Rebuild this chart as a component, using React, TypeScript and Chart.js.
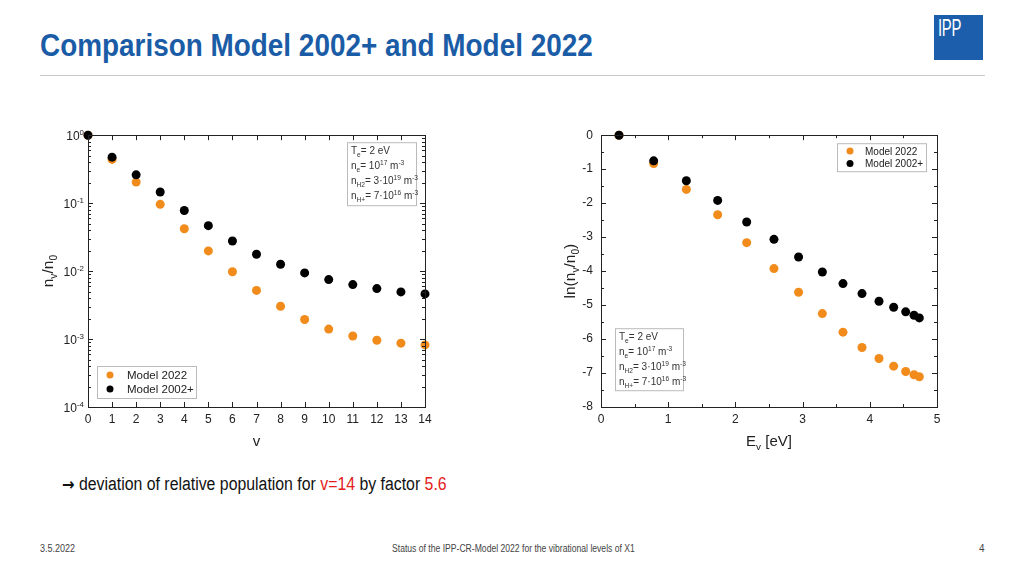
import React, { useEffect, useRef } from "react";
import { Chart, registerables } from "chart.js";

Chart.register(...registerables);

// ---------------- data ----------------
const V_LEVELS = [0, 1, 2, 3, 4, 5, 6, 7, 8, 9, 10, 11, 12, 13, 14];
const NV_MODEL_2022 = [1, 0.44, 0.204, 0.096, 0.042, 0.0198, 0.0098, 0.0052, 0.00304, 0.00194, 0.0014, 0.00111, 0.00096, 0.00087, 0.00082];
const NV_MODEL_2002 = [1, 0.475, 0.261, 0.146, 0.078, 0.0466, 0.0277, 0.0177, 0.0126, 0.0094, 0.0075, 0.00633, 0.00553, 0.00494, 0.00462];

const E_V = [0.268, 0.784, 1.27, 1.736, 2.168, 2.574, 2.94, 3.294, 3.601, 3.884, 4.137, 4.355, 4.534, 4.658, 4.737];
const LN_MODEL_2022 = [0, -0.832, -1.596, -2.34, -3.163, -3.927, -4.622, -5.25, -5.798, -6.249, -6.572, -6.797, -6.954, -7.05, -7.11];
const LN_MODEL_2002 = [0, -0.754, -1.342, -1.92, -2.556, -3.066, -3.585, -4.025, -4.368, -4.662, -4.887, -5.064, -5.2, -5.299, -5.377];

const LEFT_X_TICKS = [0, 1, 2, 3, 4, 5, 6, 7, 8, 9, 10, 11, 12, 13, 14];
const LEFT_Y_TICKS = [1, 0.1, 0.01, 0.001, 0.0001];
const LEFT_Y_EXPONENTS = ["0", "-1", "-2", "-3", "-4"];
const RIGHT_X_TICKS = [0, 1, 2, 3, 4, 5];
const RIGHT_Y_TICKS = [0, -1, -2, -3, -4, -5, -6, -7, -8];

const SERIES_NAMES = ["Model 2022", "Model 2002+"];
const ORANGE = "#f18c1c";
const BLACK = "#000000";
const FONT = "'Liberation Sans', Arial, sans-serif";

type Seg = { t: string; s?: "sub" | "sup" };

function drawRich(ctx: CanvasRenderingContext2D, x: number, y: number, segs: Seg[], size: number, color: string, align: "left" | "center" | "right" = "left") {
  ctx.save();
  ctx.fillStyle = color;
  ctx.textBaseline = "alphabetic";
  ctx.textAlign = "left";
  const small = size * 0.66;
  let w = 0;
  for (const sg of segs) {
    ctx.font = `${sg.s ? small : size}px ${FONT}`;
    w += ctx.measureText(sg.t).width;
  }
  let cx = align === "center" ? x - w / 2 : align === "right" ? x - w : x;
  for (const sg of segs) {
    ctx.font = `${sg.s ? small : size}px ${FONT}`;
    const dy = sg.s === "sub" ? size * 0.28 : sg.s === "sup" ? -size * 0.4 : 0;
    ctx.fillText(sg.t, cx, y + dy);
    cx += ctx.measureText(sg.t).width;
  }
  ctx.restore();
  return w;
}

const INFO_LINES: Seg[][] = [
  [{ t: "T" }, { t: "e", s: "sub" }, { t: "= 2 eV" }],
  [{ t: "n" }, { t: "e", s: "sub" }, { t: "= 10" }, { t: "17", s: "sup" }, { t: " m" }, { t: "-3", s: "sup" }],
  [{ t: "n" }, { t: "H2", s: "sub" }, { t: "= 3·10" }, { t: "19", s: "sup" }, { t: " m" }, { t: "-3", s: "sup" }],
  [{ t: "n" }, { t: "H+", s: "sub" }, { t: "= 7·10" }, { t: "16", s: "sup" }, { t: " m" }, { t: "-3", s: "sup" }],
];

type Box = { x: number; y: number; w: number; h: number };
type Cfg = {
  xTitle: Seg[];
  yTitle: Seg[];
  yTitleOffset: number;
  logY: boolean;
  xMinor: number[];
  yMinor: number[];
  legend: (a: any) => Box;
  legendFont: number;
  legendTextOffset: number;
  legendRow: number;
  info: (a: any) => Box;
};

function makePlugin(cfg: Cfg) {
  return {
    id: "decor",
    afterDraw(chart: any) {
      const ctx: CanvasRenderingContext2D = chart.ctx;
      const a = chart.chartArea;
      const xs = chart.scales.x;
      const ys = chart.scales.y;
      ctx.save();
      ctx.strokeStyle = "#222";
      ctx.lineWidth = 1;
      ctx.strokeRect(Math.round(a.left) + 0.5, Math.round(a.top) + 0.5, Math.round(a.right - a.left), Math.round(a.bottom - a.top));
      const tick = (x1: number, y1: number, x2: number, y2: number) => {
        ctx.beginPath();
        ctx.moveTo(x1, y1);
        ctx.lineTo(x2, y2);
        ctx.stroke();
      };
      const xMajor = xs.ticks.map((t: any) => t.value);
      const yMajor = ys.ticks.map((t: any) => t.value);
      for (const v of xMajor) {
        const p = Math.round(xs.getPixelForValue(v)) + 0.5;
        tick(p, a.bottom, p, a.bottom - 5);
        tick(p, a.top, p, a.top + 5);
      }
      for (const v of cfg.xMinor) {
        const p = Math.round(xs.getPixelForValue(v)) + 0.5;
        tick(p, a.bottom, p, a.bottom - 3);
        tick(p, a.top, p, a.top + 3);
      }
      for (const v of yMajor) {
        const p = Math.round(ys.getPixelForValue(v)) + 0.5;
        tick(a.left, p, a.left + 5, p);
        tick(a.right, p, a.right - 5, p);
      }
      for (const v of cfg.yMinor) {
        const p = Math.round(ys.getPixelForValue(v)) + 0.5;
        tick(a.left, p, a.left + 3, p);
        tick(a.right, p, a.right - 3, p);
      }
      // log tick labels with superscripts
      if (cfg.logY) {
        LEFT_Y_TICKS.forEach((v, i) => {
          const p = ys.getPixelForValue(v);
          drawRich(ctx, a.left - 4, p + 5, [{ t: "10" }, { t: LEFT_Y_EXPONENTS[i], s: "sup" }], 12, "#222", "right");
        });
      }
      // axis titles
      drawRich(ctx, (a.left + a.right) / 2, a.bottom + 39, cfg.xTitle, 15, "#222", "center");
      ctx.save();
      ctx.translate(a.left - cfg.yTitleOffset, (a.top + a.bottom) / 2);
      ctx.rotate(-Math.PI / 2);
      drawRich(ctx, 0, 0, cfg.yTitle, 15.5, "#222", "center");
      ctx.restore();
      // legend
      const lg = cfg.legend(a);
      ctx.fillStyle = "#fff";
      ctx.fillRect(lg.x, lg.y, lg.w, lg.h);
      ctx.strokeStyle = "#bbb";
      ctx.strokeRect(lg.x + 0.5, lg.y + 0.5, lg.w, lg.h);
      const cols = [ORANGE, BLACK];
      SERIES_NAMES.forEach((n, i) => {
        const cy = lg.y + lg.h / 2 + (i - 0.5) * cfg.legendRow;
        ctx.fillStyle = cols[i];
        ctx.beginPath();
        ctx.arc(lg.x + 13, cy, 3.5, 0, Math.PI * 2);
        ctx.fill();
        ctx.fillStyle = "#222";
        ctx.font = `${cfg.legendFont}px ${FONT}`;
        ctx.textBaseline = "middle";
        ctx.textAlign = "left";
        ctx.fillText(n, lg.x + cfg.legendTextOffset, cy + 1);
      });
      // info box
      const ib = cfg.info(a);
      ctx.fillStyle = "#fff";
      ctx.fillRect(ib.x, ib.y, ib.w, ib.h);
      ctx.strokeStyle = "#bbb";
      ctx.strokeRect(ib.x + 0.5, ib.y + 0.5, ib.w, ib.h);
      INFO_LINES.forEach((segs, i) => {
        drawRich(ctx, ib.x + 4, ib.y + 12 + i * 15, segs, 10, "#333", "left");
      });
      ctx.restore();
    },
  };
}

function ScatterPanel(props: {
  left: number;
  top: number;
  width: number;
  height: number;
  yAxisWidth: number;
  xAxisHeight: number;
  padTop: number;
  padRight: number;
  kind: "log" | "ln";
}) {
  const ref = useRef<HTMLCanvasElement | null>(null);
  useEffect(() => {
    if (!ref.current) return;
    const isLog = props.kind === "log";
    const xv = isLog ? V_LEVELS : E_V;
    const y22 = isLog ? NV_MODEL_2022 : LN_MODEL_2022;
    const y02 = isLog ? NV_MODEL_2002 : LN_MODEL_2002;
    const xTicks = isLog ? LEFT_X_TICKS : RIGHT_X_TICKS;
    const yTicks = isLog ? LEFT_Y_TICKS : RIGHT_Y_TICKS;
    const yMinor: number[] = [];
    if (isLog) {
      for (let d = -4; d < 0; d++) for (let m = 2; m <= 9; m++) yMinor.push(m * Math.pow(10, d));
    } else {
      for (let k = 0; k < 8; k++) yMinor.push(-k - 0.5);
    }
    const xMinor: number[] = isLog ? [] : [0.5, 1.5, 2.5, 3.5, 4.5];
    const cfg: Cfg = isLog
      ? {
          xTitle: [{ t: "v" }],
          yTitle: [{ t: "n" }, { t: "v", s: "sub" }, { t: "/n" }, { t: "0", s: "sub" }],
          yTitleOffset: 35,
          logY: true,
          xMinor,
          yMinor,
          legend: (a) => ({ x: a.left + 9, y: a.bottom - 41, w: 99, h: 32 }),
          legendFont: 11.5,
          legendTextOffset: 30,
          legendRow: 14,
          info: (a) => ({ x: a.right - 78, y: a.top + 7, w: 69, h: 63 }),
        }
      : {
          xTitle: [{ t: "E" }, { t: "v", s: "sub" }, { t: " [eV]" }],
          yTitle: [{ t: "ln(n" }, { t: "v", s: "sub" }, { t: "/n" }, { t: "0", s: "sub" }, { t: ")" }],
          yTitleOffset: 26,
          logY: false,
          xMinor,
          yMinor,
          legend: (a) => ({ x: a.right - 100, y: a.top + 8, w: 89, h: 28 }),
          legendFont: 10,
          legendTextOffset: 28,
          legendRow: 12.5,
          info: (a) => ({ x: a.left + 14, y: a.top + 193, w: 68, h: 62 }),
        };
    const chart = new Chart(ref.current, {
      type: "scatter",
      data: {
        datasets: [
          {
            label: SERIES_NAMES[0],
            data: xv.map((x, i) => ({ x, y: y22[i] })),
            backgroundColor: ORANGE,
            borderColor: ORANGE,
            borderWidth: 0,
            pointRadius: 4.5,
            order: 2,
            clip: false as any,
          },
          {
            label: SERIES_NAMES[1],
            data: xv.map((x, i) => ({ x, y: y02[i] })),
            backgroundColor: BLACK,
            borderColor: BLACK,
            borderWidth: 0,
            pointRadius: 4.5,
            order: 1,
            clip: false as any,
          },
        ],
      },
      options: {
        animation: false,
        responsive: false,
        maintainAspectRatio: false,
        layout: { padding: { top: props.padTop, right: props.padRight, left: 0, bottom: 0 } },
        plugins: { legend: { display: false }, tooltip: { enabled: false } },
        scales: {
          x: {
            type: "linear",
            min: xTicks[0],
            max: xTicks[xTicks.length - 1],
            afterBuildTicks: (s: any) => {
              s.ticks = xTicks.map((v) => ({ value: v }));
            },
            afterFit: (s: any) => {
              s.height = props.xAxisHeight;
            },
            ticks: { autoSkip: false, maxRotation: 0, color: "#222", font: { size: 12, family: FONT }, padding: 5 },
            grid: { display: false, drawTicks: false },
            border: { display: false },
          },
          y: {
            type: isLog ? "logarithmic" : "linear",
            min: isLog ? 0.0001 : -8,
            max: isLog ? 1 : 0,
            afterBuildTicks: (s: any) => {
              s.ticks = yTicks.map((v) => ({ value: v }));
            },
            afterFit: (s: any) => {
              s.width = props.yAxisWidth;
            },
            ticks: {
              autoSkip: false,
              color: "#222",
              font: { size: 12, family: FONT },
              padding: 8,
              callback: (v: any) => (isLog ? "" : String(v)),
            },
            grid: { display: false, drawTicks: false },
            border: { display: false },
          },
        } as any,
      },
      plugins: [makePlugin(cfg)],
    });
    return () => chart.destroy();
  }, []);
  return (
    <canvas
      ref={ref}
      width={props.width}
      height={props.height}
      style={{ position: "absolute", left: props.left, top: props.top, width: props.width, height: props.height }}
    />
  );
}

const squeeze = (k: number): React.CSSProperties => ({ transform: `scaleX(${k})`, transformOrigin: "left top" });

export default function App() {
  useEffect(() => {
    document.body.style.margin = "0";
  }, []);
  return (
    <div style={{ position: "fixed", left: 0, top: 0, width: 1024, height: 576, background: "#fff", overflow: "hidden", fontFamily: FONT }}>
      <div
        style={{
          position: "absolute",
          left: 40,
          top: 28,
          fontWeight: "bold",
          fontSize: 31,
          lineHeight: "36px",
          color: "#1b5ca6",
          whiteSpace: "nowrap",
          ...squeeze(0.9),
        }}
      >
        Comparison Model 2002+ and Model 2022
      </div>
      <div style={{ position: "absolute", left: 40, top: 75, width: 945, height: 1, background: "#c9c9c9" }} />
      <div style={{ position: "absolute", left: 934, top: 15, width: 49, height: 45, background: "#1c5eab" }}>
        <div
          style={{
            position: "absolute",
            left: 4,
            top: 0,
            color: "#fff",
            fontSize: 24,
            lineHeight: "26px",
            letterSpacing: -0.5,
            ...squeeze(0.62),
          }}
        >
          IPP
        </div>
      </div>

      <ScatterPanel left={20} top={120} width={430} height={340} yAxisWidth={68} xAxisHeight={53} padTop={15} padRight={25} kind="log" />
      <ScatterPanel left={540} top={120} width={420} height={340} yAxisWidth={61} xAxisHeight={53} padTop={15} padRight={23} kind="ln" />

      <div
        style={{
          position: "absolute",
          left: 62,
          top: 473,
          fontSize: 18,
          lineHeight: "22px",
          color: "#111",
          whiteSpace: "nowrap",
          ...squeeze(0.88),
        }}
      >
        <span style={{ fontFamily: "'DejaVu Sans', sans-serif", fontSize: 17, fontWeight: "bold" }}>→</span> deviation of relative population for{" "}
        <span style={{ color: "#e3201b" }}>v=14</span> by factor <span style={{ color: "#e3201b" }}>5.6</span>
      </div>

      <div style={{ position: "absolute", left: 40, top: 543, fontSize: 10, color: "#444", whiteSpace: "nowrap", ...squeeze(0.9) }}>3.5.2022</div>
      <div style={{ position: "absolute", left: 392, top: 543, fontSize: 10, color: "#444", whiteSpace: "nowrap", ...squeeze(0.86) }}>
        Status of the IPP-CR-Model 2022 for the vibrational levels of X1
      </div>
      <div style={{ position: "absolute", left: 979, top: 543, fontSize: 10, color: "#444" }}>4</div>
    </div>
  );
}
